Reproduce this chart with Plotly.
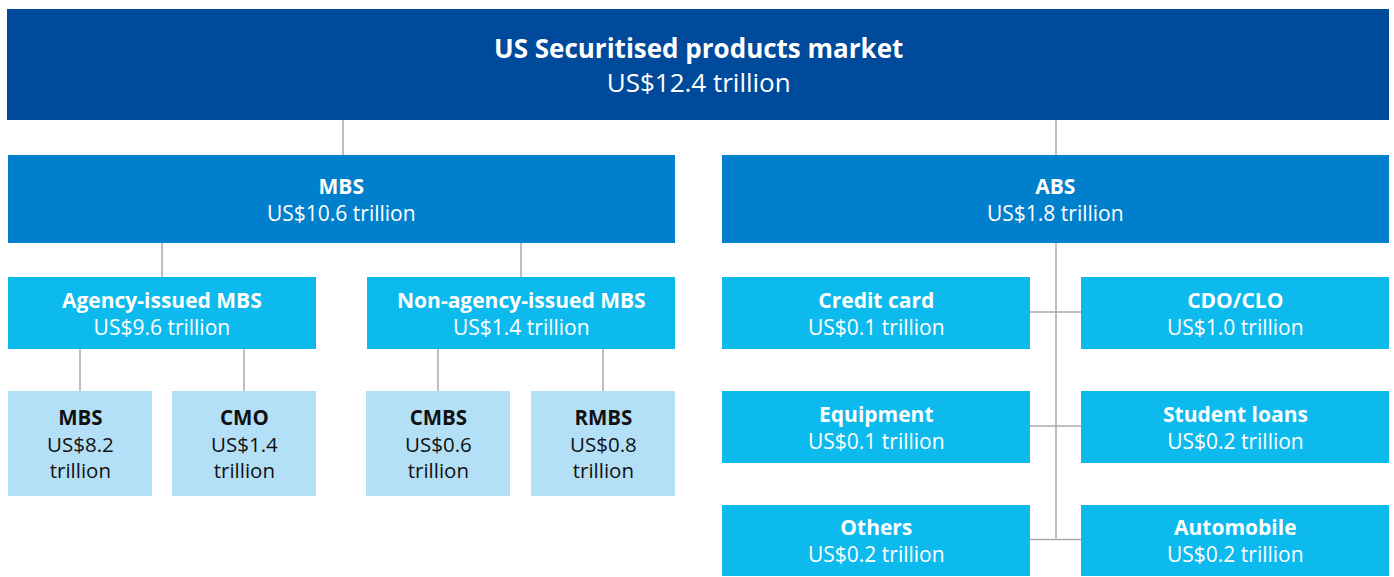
import plotly.graph_objects as go

# ---- data ----
names = ["US Securitised products market", "MBS", "ABS",
         "Agency-issued MBS", "Non-agency-issued MBS",
         "MBS", "CMO", "CMBS", "RMBS",
         "Credit card", "CDO/CLO", "Equipment", "Student loans", "Others", "Automobile"]
values = [12.4, 10.6, 1.8, 9.6, 1.4, 8.2, 1.4, 0.6, 0.8, 0.1, 1.0, 0.1, 0.2, 0.2, 0.2]
value_labels = ["12.4", "10.6", "1.8", "9.6", "1.4", "8.2", "1.4", "0.6", "0.8",
                "0.1", "1.0", "0.1", "0.2", "0.2", "0.2"]
parents = [None, 0, 0, 1, 1, 3, 3, 4, 4, 2, 2, 2, 2, 2, 2]
levels = [0, 1, 1, 2, 2, 3, 3, 3, 3, 2, 2, 2, 2, 2, 2]

# ---- layout (pixel boxes: x0, y0, x1, y1) ----
boxes = [
    (7, 9, 1389, 120),
    (8, 155, 675, 243), (722, 155, 1389, 243),
    (8, 277, 316, 349), (367, 277, 675, 349),
    (8, 391, 152, 496), (172, 391, 316, 496), (366, 391, 510, 496), (531, 391, 675, 496),
    (722, 277, 1030, 349), (1081, 277, 1389, 349),
    (722, 391, 1030, 463), (1081, 391, 1389, 463),
    (722, 505, 1030, 576), (1081, 505, 1389, 576),
]
fills = {0: "#004A9B", 1: "#0080CC", 2: "#0DBAEE", 3: "#B3E0F7"}
txtcol = {0: "white", 1: "white", 2: "white", 3: "#111111"}
fsize = {0: 26, 1: 21, 2: 21, 3: 20.5}
LINE = "#AAAAAA"
FONT = "Open Sans"

fig = go.Figure()
shapes = []
annotations = []

abs_idx = 2
for i, p in enumerate(parents):
    if p is None or p == abs_idx:
        continue
    px0, py0, px1, py1 = boxes[p]
    cx0, cy0, cx1, cy1 = boxes[i]
    if p == 0:
        xs = {1: 343, 2: 1056}[i]
    else:
        xs = (cx0 + cx1) / 2
    shapes.append(dict(type="line", x0=xs, x1=xs, y0=py1, y1=cy0,
                       line=dict(color=LINE, width=1.5), layer="below"))

# ABS trunk & branches
abs_children = [i for i, p in enumerate(parents) if p == abs_idx]
trunk_x = 1056
last_y = max((boxes[i][1] + boxes[i][3]) / 2 for i in abs_children) - 2
shapes.append(dict(type="line", x0=trunk_x, x1=trunk_x, y0=boxes[abs_idx][3], y1=last_y,
                   line=dict(color=LINE, width=1.5), layer="below"))
rows = sorted(set(boxes[i][1] for i in abs_children))
for r in rows:
    row = [i for i in abs_children if boxes[i][1] == r]
    left = min(boxes[i][2] for i in row if boxes[i][0] < trunk_x)
    right = min(boxes[i][0] for i in row if boxes[i][0] > trunk_x)
    ym = (boxes[row[0]][1] + boxes[row[0]][3]) / 2 - 1
    shapes.append(dict(type="line", x0=left, x1=right, y0=ym, y1=ym,
                       line=dict(color=LINE, width=1.5), layer="below"))

for i, (name, vl, lv) in enumerate(zip(names, value_labels, levels)):
    x0, y0, x1, y1 = boxes[i]
    shapes.append(dict(type="rect", x0=x0, x1=x1, y0=y0, y1=y1,
                       fillcolor=fills[lv], line=dict(width=0), layer="above"))
    cx = (x0 + x1) / 2
    cy = (y0 + y1) / 2
    if lv == 3:
        text = f"<b>{name}</b><br>US${vl}<br>trillion"
    else:
        text = f"<b>{name}</b><br>US${vl} trillion"
    annotations.append(dict(x=cx, y=cy, text=text, showarrow=False,
                            xref="x", yref="y", xanchor="center", yanchor="middle",
                            align="center",
                            font=dict(family=FONT, size=fsize[lv], color=txtcol[lv])))

fig.update_layout(
    width=1394, height=577,
    margin=dict(l=0, r=0, t=0, b=0),
    paper_bgcolor="white", plot_bgcolor="white",
    xaxis=dict(range=[0, 1394], visible=False, fixedrange=True),
    yaxis=dict(range=[577, 0], visible=False, fixedrange=True),
    shapes=shapes, annotations=annotations, showlegend=False,
)
fig.write_html("out.html", config={"displayModeBar": False, "staticPlot": True},
               post_script="document.body.style.margin='0';document.body.style.overflow='hidden';")
